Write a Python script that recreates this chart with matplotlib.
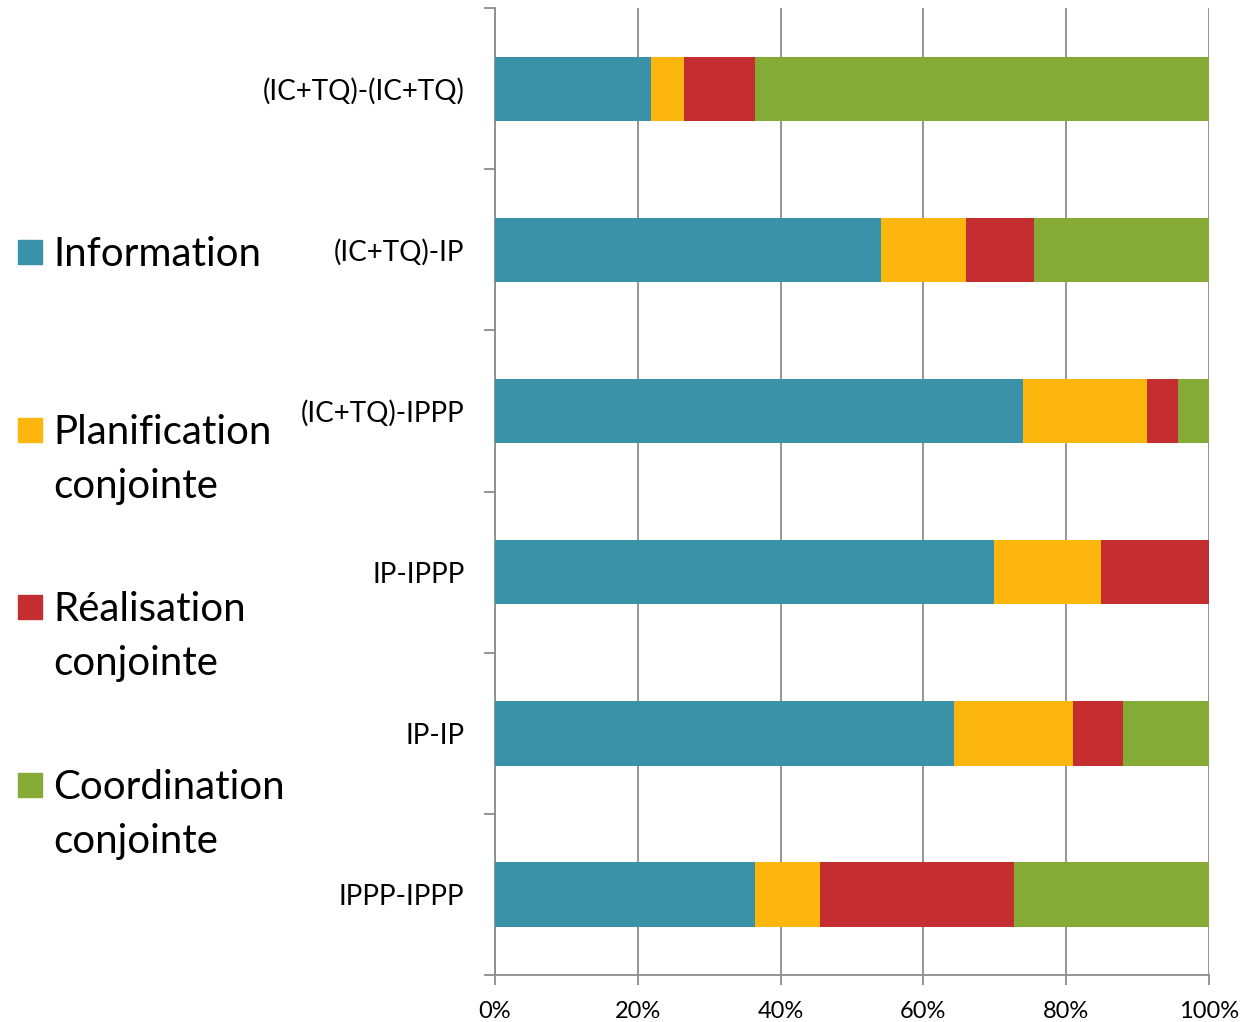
import matplotlib
matplotlib.use("Agg")
import matplotlib.pyplot as plt
from matplotlib.patches import Rectangle
import numpy as np

plt.rcParams["font.family"] = ["Lato", "DejaVu Sans"]

categories = ["(IC+TQ)-(IC+TQ)", "(IC+TQ)-IP", "(IC+TQ)-IPPP", "IP-IPPP", "IP-IP", "IPPP-IPPP"]
information = [21.8, 54.1, 73.9, 69.9, 64.3, 36.4]
planification = [4.7, 11.9, 17.4, 15.0, 16.7, 9.1]
realisation = [9.9, 9.5, 4.4, 15.1, 7.0, 27.2]
coordination = [63.6, 24.5, 4.3, 0.0, 12.0, 27.3]

series_labels = ["Information", "Planification\nconjointe", "Réalisation\nconjointe", "Coordination\nconjointe"]
colors = ["#3A92A8", "#FDB60E", "#C42E30", "#86AA36"]

fig = plt.figure(figsize=(12.47, 10.22), dpi=100)
ax = fig.add_axes([0.397, 0.046, 0.5725, 0.946])

y = np.arange(len(categories))
left = np.zeros(len(categories))
for vals, c in zip([information, planification, realisation, coordination], colors):
    ax.barh(y, vals, left=left, height=0.4, color=c, zorder=3)
    left += np.array(vals)

ax.set_xlim(0, 100)
ax.set_ylim(len(categories) - 0.5, -0.5)
ax.set_xticks(np.arange(0, 101, 20))
ax.set_xticklabels([f"{v}%" for v in range(0, 101, 20)], fontsize=17)
ax.xaxis.grid(True, color="#8C8C8C", linewidth=1.3, zorder=0)

# category boundaries get the tick marks, labels sit between them
ax.set_yticks(np.arange(-0.5, len(categories), 1.0))
ax.set_yticklabels([])
ax.set_yticks(y, minor=True)
ax.set_yticklabels(categories, minor=True, fontsize=20)
ax.tick_params(axis="y", which="major", length=8, width=1.3, color="#8C8C8C", direction="out")
ax.tick_params(axis="y", which="minor", length=0, pad=22)
ax.tick_params(axis="x", length=7, width=1.3, color="#8C8C8C", direction="out", pad=12)

for s in ["top", "right"]:
    ax.spines[s].set_visible(False)
for s in ["left", "bottom"]:
    ax.spines[s].set_color("#8C8C8C")
    ax.spines[s].set_linewidth(1.3)

# legend drawn on the left
leg_y = [252, 430, 607, 785]
W, H = 1247, 1022
for lab, c, yy in zip(series_labels, colors, leg_y):
    fig.patches.append(Rectangle((18 / W, 1 - (yy + 12) / H), 24 / W, 24 / H,
                                 transform=fig.transFigure, color=c))
    fig.text(53 / W, 1 - (yy - 16) / H, lab, fontsize=29, va="top", ha="left",
             linespacing=1.55)

fig.savefig("out.png", dpi=100)
